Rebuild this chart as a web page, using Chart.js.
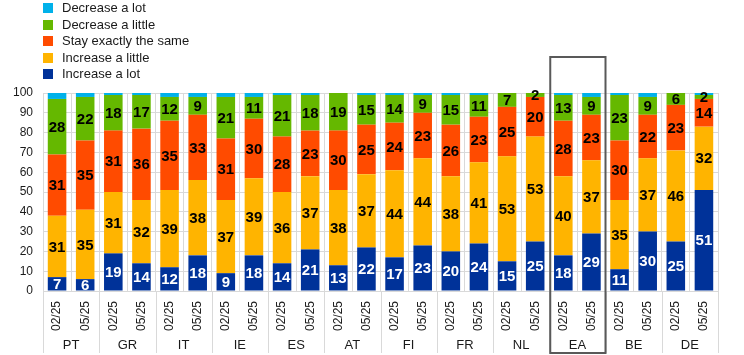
<!DOCTYPE html>
<html>
<head>
<meta charset="utf-8">
<script src="https://cdn.jsdelivr.net/npm/chart.js@4/dist/chart.umd.min.js"></script>
<style>
  html, body { margin: 0; padding: 0; background: #fff; }
  #wrap { position: relative; width: 744px; height: 355px; }
  #legend { position: absolute; left: 43px; top: 0px; font-family: "Liberation Sans", Arial, sans-serif; font-size: 13px; color: #1a1a1a; }
  #legend .item { height: 16.5px; line-height: 16.5px; white-space: nowrap; display: flex; align-items: center; }
  #legend .sw { width: 10px; height: 10px; margin-right: 9px; display: inline-block; }
</style>
</head>
<body>
<div id="wrap">
  <canvas id="c" width="744" height="355"></canvas>
  <div id="legend"></div>
</div>
<script>
const categories = ['02/25','05/25','02/25','05/25','02/25','05/25','02/25','05/25','02/25','05/25','02/25','05/25',
                    '02/25','05/25','02/25','05/25','02/25','05/25','02/25','05/25','02/25','05/25','02/25','05/25'];
const groups = ['PT','GR','IT','IE','ES','AT','FI','FR','NL','EA','BE','DE'];
const highlightGroup = 'EA';

const increaseALot    = [7, 6, 19,14, 12,18, 9, 18, 14,21, 13,22, 17,23, 20,24, 15,25, 18,29, 11,30, 25,51];
const increaseALittle = [31,35, 31,32, 39,38, 37,39, 36,37, 38,37, 44,44, 38,41, 53,53, 40,37, 35,37, 46,32];
const stayTheSame     = [31,35, 31,36, 35,33, 31,30, 28,23, 30,25, 24,23, 26,23, 25,20, 28,23, 30,22, 23,14];
const decreaseALittle = [28,22, 18,17, 12,9, 21,11, 21,18, 19,15, 14,9, 15,11, 7,2, 13,9, 23,9, 6,2];
const decreaseALot    = [3,2, 1,1, 2,2, 2,2, 1,1, 0,1, 1,1, 1,1, 0,0, 1,2, 1,2, 0,1];

const yTicks = [0,10,20,30,40,50,60,70,80,90,100];

const COLORS = {
  lotUp: '#003299', littleUp: '#FFB400', same: '#FF4B00', littleDown: '#65B800', lotDown: '#00B1EA'
};

const datasets = [
  { label: 'Increase a lot', data: increaseALot, backgroundColor: COLORS.lotUp, showValue: true, valueColor: '#ffffff' },
  { label: 'Increase a little', data: increaseALittle, backgroundColor: COLORS.littleUp, showValue: true, valueColor: '#000000' },
  { label: 'Stay exactly the same', data: stayTheSame, backgroundColor: COLORS.same, showValue: true, valueColor: '#000000' },
  { label: 'Decrease a little', data: decreaseALittle, backgroundColor: COLORS.littleDown, showValue: true, valueColor: '#000000' },
  { label: 'Decrease a lot', data: decreaseALot, backgroundColor: COLORS.lotDown, showValue: false, valueColor: '#000000' }
];
datasets.forEach(d => { d.barPercentage = 0.66; d.categoryPercentage = 1.0; d.borderWidth = 0; });

const FONT = '"Liberation Sans", Arial, sans-serif';
const GRID = '#d9d9d9';
const TEXT = '#1a1a1a';

const valueLabels = {
  id: 'valueLabels',
  afterDatasetsDraw(chart) {
    const ctx = chart.ctx;
    ctx.save();
    ctx.font = 'bold 15px "Liberation Sans Narrow", "Liberation Sans", Arial, sans-serif';
    ctx.textAlign = 'center';
    ctx.textBaseline = 'middle';
    chart.data.datasets.forEach((ds, di) => {
      if (!ds.showValue) return;
      const meta = chart.getDatasetMeta(di);
      meta.data.forEach((el, i) => {
        const v = ds.data[i];
        if (!v) return;
        ctx.fillStyle = ds.valueColor;
        ctx.fillText(String(v), el.x, (el.y + el.base) / 2 + 1);
      });
    });
    ctx.restore();
  }
};

const groupDecor = {
  id: 'groupDecor',
  afterDraw(chart) {
    const ctx = chart.ctx;
    const xs = chart.scales.x;
    const area = chart.chartArea;
    const n = categories.length;
    const per = n / groups.length;
    const step = (xs.getPixelForValue(1) - xs.getPixelForValue(0));
    const bottom = chart.height - 2;
    ctx.save();
    ctx.strokeStyle = GRID;
    ctx.lineWidth = 1;
    for (let g = 0; g <= groups.length; g++) {
      const px = Math.round(xs.getPixelForValue(g * per) - step / 2) + 0.5;
      ctx.beginPath();
      ctx.moveTo(px, area.bottom);
      ctx.lineTo(px, bottom);
      ctx.stroke();
    }
    // highlight box
    const gi = groups.indexOf(highlightGroup);
    const x0 = xs.getPixelForValue(gi * per) - step / 2;
    const x1 = xs.getPixelForValue(gi * per + per - 1) + step / 2;
    const top = chart.scales.y.getPixelForValue(100) - 36;
    ctx.strokeStyle = '#595959';
    ctx.lineWidth = 2;
    ctx.strokeRect(x0 + 1, top, x1 - x0 - 1, bottom - top);
    ctx.restore();
  }
};

const chart = new Chart(document.getElementById('c'), {
  type: 'bar',
  data: { labels: categories, datasets },
  options: {
    responsive: false,
    animation: false,
    devicePixelRatio: 1,
    layout: { padding: { top: 93, right: 26, left: 0, bottom: 0 } },
    plugins: { legend: { display: false }, tooltip: { enabled: false } },
    scales: {
      x: {
        stacked: true,
        weight: 0,
        grid: { color: GRID, offset: true, drawTicks: false },
        border: { color: GRID },
        ticks: { font: { family: FONT, size: 12 }, color: TEXT, minRotation: 90, maxRotation: 90, autoSkip: false, padding: 10 },
        afterFit(s) { s.height = 42; }
      },
      x2: {
        type: 'category',
        labels: groups,
        position: 'bottom',
        weight: 1,
        offset: true,
        grid: { display: false, drawOnChartArea: false, offset: true, drawTicks: false },
        border: { display: false },
        ticks: { font: { family: FONT, size: 13 }, color: TEXT, autoSkip: false, maxRotation: 0, padding: 5 },
        afterFit(s) { s.height = 22; }
      },
      y: {
        stacked: true,
        min: 0, max: 100,
        afterBuildTicks(s) { s.ticks = yTicks.map(v => ({ value: v })); },
        grid: { color: GRID, drawTicks: false },
        border: { color: GRID },
        ticks: { font: { family: FONT, size: 12 }, color: TEXT, padding: 10 },
        afterFit(s) { s.width = 43; }
      }
    }
  },
  plugins: [valueLabels, groupDecor]
});

// HTML legend built from the chart's datasets (top item = last dataset)
const leg = document.getElementById('legend');
chart.data.datasets.slice().reverse().forEach(ds => {
  const item = document.createElement('div');
  item.className = 'item';
  const sw = document.createElement('span');
  sw.className = 'sw';
  sw.style.background = ds.backgroundColor;
  item.appendChild(sw);
  item.appendChild(document.createTextNode(ds.label));
  leg.appendChild(item);
});
</script>
</body>
</html>
